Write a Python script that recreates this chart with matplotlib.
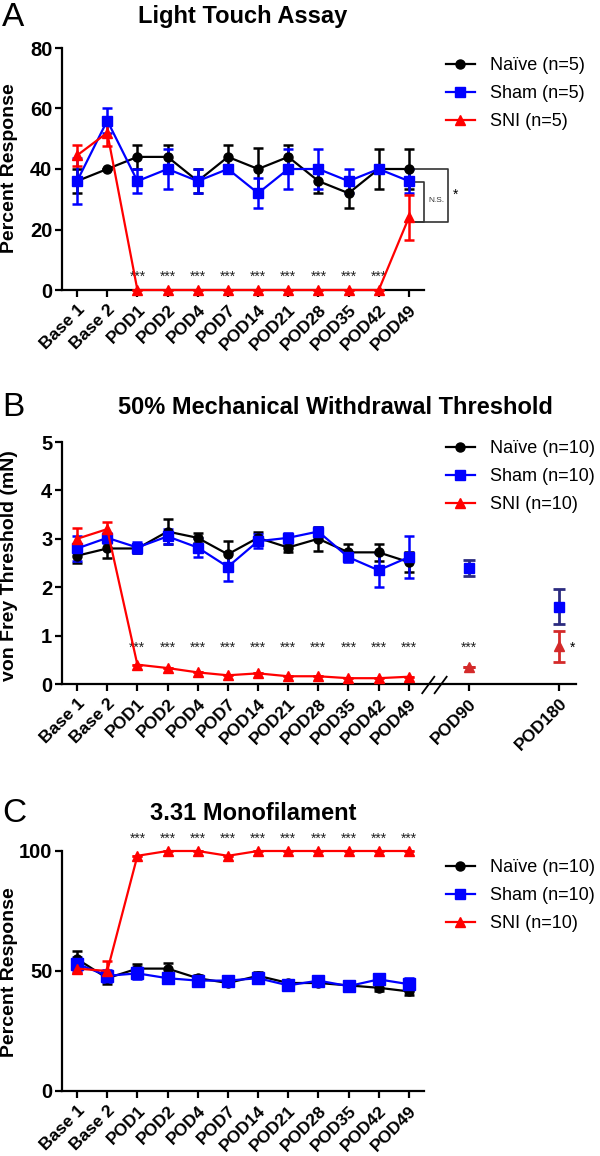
import numpy as np
import matplotlib
matplotlib.use("Agg")
import matplotlib.pyplot as plt
from matplotlib.lines import Line2D

plt.rcParams["font.family"] = ["Liberation Sans", "DejaVu Sans"]

# ---- data ----
days = ["Base 1", "Base 2", "POD1", "POD2", "POD4", "POD7", "POD14",
        "POD21", "POD28", "POD35", "POD42", "POD49"]
late_days = ["POD90", "POD180"]

# A: light touch assay (% response)
a_naive = [36, 40, 44, 44, 36, 44, 40, 44, 36, 32, 40, 40]
a_naive_err = [4, 0, 4, 4, 4, 4, 7, 4, 4, 5, 6.5, 6.5]
a_sham = [36, 56, 36, 40, 36, 40, 32, 40, 40, 36, 40, 36]
a_sham_err = [7.5, 4, 4, 6.5, 4, 0, 5, 6.5, 6.5, 4, 0, 4]
a_sni = [44.5, 52, 0, 0, 0, 0, 0, 0, 0, 0, 0, 24]
a_sni_err = [3.5, 4.5, 0, 0, 0, 0, 0, 0, 0, 0, 0, 7.5]

# B: 50% withdrawal threshold (mN)
b_naive = [2.65, 2.8, 2.8, 3.15, 3.02, 2.68, 3.02, 2.82, 3.0, 2.72, 2.72, 2.52]
b_naive_err = [0.15, 0.2, 0.1, 0.25, 0.1, 0.27, 0.12, 0.1, 0.25, 0.17, 0.18, 0.2]
b_sham = [2.8, 3.02, 2.82, 3.05, 2.82, 2.42, 2.95, 3.02, 3.15, 2.62, 2.35, 2.62]
b_sham_err = [0.25, 0.1, 0.12, 0.15, 0.2, 0.3, 0.15, 0.1, 0.1, 0.1, 0.35, 0.43]
b_sni = [3.0, 3.2, 0.4, 0.33, 0.24, 0.18, 0.22, 0.16, 0.16, 0.12, 0.12, 0.15]
b_sni_err = [0.22, 0.15, 0, 0, 0, 0, 0, 0, 0, 0, 0, 0]
b_sham_late = [2.4, 1.6]
b_sham_late_err = [0.17, 0.37]
b_sni_late = [0.36, 0.78]
b_sni_late_err = [0, 0.32]

# C: 3.31 monofilament (% response)
c_naive = [55, 47, 51, 51, 47, 45, 48, 45, 45, 44, 43, 41.5]
c_naive_err = [3.5, 2.5, 2, 2.5, 1.5, 1, 1.5, 1, 1, 1, 1.5, 1.5]
c_sham = [53, 48, 49, 47, 46, 46, 47, 44, 46, 43.7, 46.5, 44.5]
c_sham_err = [3, 2.5, 2.5, 2, 2, 2, 2, 1.5, 2, 2, 2, 2.5]
c_sni = [51, 50, 98, 100, 100, 98, 100, 100, 100, 100, 100, 100]
c_sni_err = [2, 4, 0, 0, 0, 0, 0, 0, 0, 0, 0, 0]

# ---- styling ----
BLACK, BLUE, RED = "#000000", "#0000ff", "#ff0000"
NAVY, DRED = "#2b2b80", "#d42a2a"
W, H = 600, 1156
x = np.arange(len(days))
late_x = [13, 16]


def fx(px):
    return px / W


def fy(py):
    return 1 - py / H


def series(ax, xs, y, err, color, marker, ms):
    ax.errorbar(xs, y, yerr=err, color=color, marker=marker, ms=ms, lw=1.6,
                elinewidth=1.8, capsize=3.5, capthick=1.8,
                clip_on=False, zorder=3)


def style_axis(ax, ylim, yticks, xlim, ticks, labels):
    ax.set_ylim(*ylim)
    ax.set_yticks(yticks)
    ax.set_xlim(*xlim)
    ax.set_xticks(ticks)
    ax.set_xticklabels(labels, rotation=45, ha="right", va="top",
                       rotation_mode="anchor", fontweight="bold", fontsize=12.5)
    for s in ("top", "right"):
        ax.spines[s].set_visible(False)
    for s in ("left", "bottom"):
        ax.spines[s].set_linewidth(1.6)
    ax.tick_params(width=1.6, length=5, direction="out")
    ax.tick_params(axis="y", labelsize=14.5, pad=2)
    for t in ax.get_yticklabels():
        t.set_fontweight("bold")


def legend(ax, top_px, n):
    handles = [Line2D([], [], color=c, marker=m, ms=ms, lw=1.6)
               for c, m, ms in ((BLACK, "o", 6.5), (BLUE, "s", 6.5), (RED, "^", 7))]
    ax.legend(handles, [f"Naïve (n={n})", f"Sham (n={n})", f"SNI (n={n})"],
              loc="upper left", bbox_to_anchor=(fx(446), fy(top_px)),
              bbox_transform=fig.transFigure, frameon=False, fontsize=13,
              handlelength=1.6, handletextpad=0.85, labelspacing=0.62,
              borderpad=0, borderaxespad=0)


def stars(ax, xs, y, txt="***"):
    for xi in xs:
        ax.text(xi, y, txt, ha="center", va="center", fontsize=10,
                color="#222222")


fig = plt.figure(figsize=(6, 11.56), dpi=100)

# ---------------- A ----------------
axA = fig.add_axes([fx(62), fy(290), fx(362), (290 - 48) / H])
series(axA, x, a_naive, a_naive_err, BLACK, "o", 6.5)
series(axA, x, a_sham, a_sham_err, BLUE, "s", 6.5)
series(axA, x, a_sni, a_sni_err, RED, "^", 7)
style_axis(axA, (0, 80), [0, 20, 40, 60, 80], (-0.5, 11.5), x, days)
legend(axA, 57, 5)
stars(axA, x[2:11], 4.5)
# comparison brackets at POD49
kw = dict(color="#333333", lw=1.2, clip_on=False)
axA.plot([11.15, 11.5, 11.5, 11.2], [35.8, 35.8, 22.6, 22.6], **kw)
axA.plot([11.15, 12.3, 12.3, 11.2], [39.9, 39.9, 22.6, 22.6], **kw)
axA.text(11.9, 29.7, "N.S.", fontsize=6, ha="center", va="center", color="#333333")
axA.text(12.55, 31.5, "*", fontsize=10, ha="center", va="center")

# ---------------- B ----------------
axB = fig.add_axes([fx(62), fy(684), fx(514), (684 - 442) / H])
series(axB, x, b_naive, b_naive_err, BLACK, "o", 6.5)
series(axB, x, b_sham, b_sham_err, BLUE, "s", 6.5)
series(axB, x, b_sni, b_sni_err, RED, "^", 7)
axB.errorbar(late_x, b_sham_late, yerr=b_sham_late_err, fmt="none", ecolor=NAVY,
             elinewidth=2, capsize=4, capthick=2, zorder=3)
axB.plot(late_x, b_sham_late, "s", color=BLUE, ms=7.5, zorder=4)
axB.errorbar(late_x, b_sni_late, yerr=b_sni_late_err, fmt="none", ecolor=DRED,
             elinewidth=2, capsize=4, capthick=2, zorder=3)
axB.plot(late_x, b_sni_late, "^", color=DRED, ms=7, zorder=4)
style_axis(axB, (0, 5), [0, 1, 2, 3, 4, 5], (-0.5, 16.55),
           list(x) + late_x, days + late_days)
legend(axB, 440, 10)
stars(axB, list(x[2:]) + [late_x[0]], 0.75)
axB.text(16.45, 0.75, "*", fontsize=10, ha="center", va="center")
# axis break marks
for x0 in (11.45, 11.86):
    axB.plot([x0, x0 + 0.4], [-0.19, 0.15], color="black", lw=1.3, clip_on=False)

# ---------------- C ----------------
axC = fig.add_axes([fx(62), fy(1091), fx(362), (1091 - 851) / H])
series(axC, x, c_naive, c_naive_err, BLACK, "o", 6.5)
series(axC, x, c_sham, c_sham_err, BLUE, "s", 8)
series(axC, x, c_sni, c_sni_err, RED, "^", 7)
style_axis(axC, (0, 100), [0, 50, 100], (-0.5, 11.5), x, days)
legend(axC, 859, 10)
stars(axC, x[2:], 105)

# y-axis labels
for ypx, txt in [(168, "Percent Response"), (566, "von Frey Threshold (mN)"),
                 (972, "Percent Response")]:
    fig.text(fx(10), fy(ypx), txt, rotation=90, ha="center", va="center",
             fontweight="bold", fontsize=14)

# titles and panel letters
for ypx, title, cx, letter in [(17, "Light Touch Assay", 243, "A"),
                               (407, "50% Mechanical Withdrawal Threshold", 335, "B"),
                               (813, "3.31 Monofilament", 253, "C")]:
    fig.text(fx(cx), fy(ypx), title, ha="center", va="center",
             fontweight="bold", fontsize=17)
    fig.text(fx(2), fy(ypx), letter, ha="left", va="center", fontsize=24)

fig.savefig("out.png", dpi=100)
